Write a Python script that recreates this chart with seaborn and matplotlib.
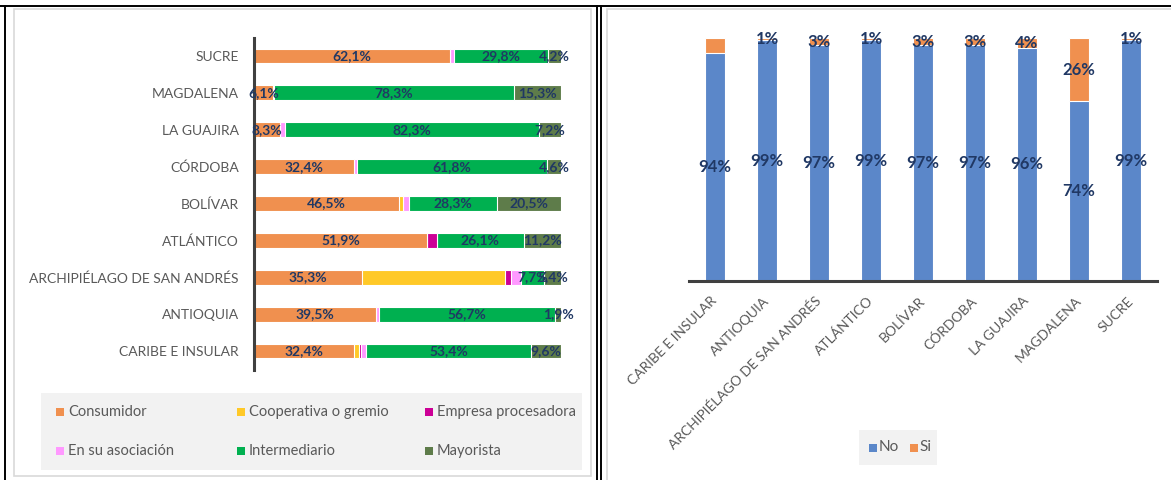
import matplotlib
matplotlib.use("Agg")
import matplotlib.pyplot as plt
import seaborn as sns
import pandas as pd
import numpy as np
from matplotlib.patches import Rectangle
from matplotlib.lines import Line2D

regions = ["CARIBE E INSULAR", "ANTIOQUIA", "ARCHIPIÉLAGO DE SAN ANDRÉS", "ATLÁNTICO",
           "BOLÍVAR", "CÓRDOBA", "LA GUAJIRA", "MAGDALENA", "SUCRE"]

# left chart - where the product is sold (%)
consumidor = [32.4, 39.5, 35.3, 51.9, 46.5, 32.4, 8.3, 6.1, 62.1]
cooperativa = [1.6, 0.0, 46.5, 0.0, 1.4, 0.0, 0.0, 0.0, 0.0]
empresa = [0.6, 0.0, 2.0, 2.8, 0.0, 0.0, 0.0, 0.0, 0.0]
asociacion = [1.4, 1.0, 3.1, 0.0, 2.0, 0.9, 1.6, 0.4, 1.4]
intermediario = [53.4, 56.7, 7.7, 26.1, 28.3, 61.8, 82.3, 78.3, 29.8]
mayorista = [9.6, 1.9, 5.4, 11.2, 20.5, 4.6, 7.2, 15.3, 4.2]

series_names = ["Consumidor", "Cooperativa o gremio", "Empresa procesadora",
                "En su asociación", "Intermediario", "Mayorista"]
labelled = ["Consumidor", "Intermediario", "Mayorista"]

# right chart - No / Si (%)
no_vals = [94, 99, 97, 99, 97, 97, 96, 74, 99]
si_vals = [6, 1, 3, 1, 3, 3, 4, 26, 1]
si_show = [False, True, True, True, True, True, True, True, True]

colors = {"Consumidor": "#F0904F", "Cooperativa o gremio": "#FFC928",
          "Empresa procesadora": "#CC0096", "En su asociación": "#FF99FF",
          "Intermediario": "#00B050", "Mayorista": "#5E7C4A"}
blue, orange = "#5B87C9", "#F0904F"
lab_col = "#203864"
gray_txt = "#595959"

sns.set_theme(style="white")
plt.rcParams["font.family"] = ["Lato", "DejaVu Sans"]

W, H = 1171, 480
fig = plt.figure(figsize=(W / 100, H / 100), dpi=100)


def fx(x):
    return x / W


def fy(y):
    return 1 - y / H


# ---- frame lines / chart borders (behind the axes)
fig.add_artist(Rectangle((fx(14), fy(476)), fx(591 - 14), (476 - 9) / H, transform=fig.transFigure,
                         facecolor="white", edgecolor="#D9D9D9", lw=1.2, zorder=-10))
fig.add_artist(Rectangle((fx(607), fy(482)), fx(1180 - 607), (482 - 9) / H, transform=fig.transFigure,
                         facecolor="white", edgecolor="#D9D9D9", lw=1.2, zorder=-10))
for (x0, y0, x1, y1) in [(0, 6, W, 6), (5, 6, 5, H), (597, 6, 597, H), (600.5, 6, 600.5, H)]:
    fig.add_artist(Line2D([fx(x0), fx(x1)], [fy(y0), fy(y1)], transform=fig.transFigure,
                          color="black", lw=1.4, zorder=-5))

# ---- left chart: 100% stacked horizontal bars
df = pd.DataFrame({"Consumidor": consumidor, "Cooperativa o gremio": cooperativa,
                   "Empresa procesadora": empresa, "En su asociación": asociacion,
                   "Intermediario": intermediario, "Mayorista": mayorista}, index=regions)
pct = df.div(df.sum(axis=1), axis=0) * 100
cum = pct.cumsum(axis=1)
cum_long = cum.reset_index().rename(columns={"index": "region"})
order_left = regions[::-1]

ax1 = fig.add_axes([fx(254), fy(369.5), fx(561 - 254), 332 / H])
for name in series_names[::-1]:
    sns.barplot(data=cum_long, x=name, y="region", order=order_left, orient="h",
                color=colors[name], saturation=1, width=0.4, errorbar=None,
                edgecolor="white", linewidth=0.8, ax=ax1)
for name in labelled:
    for i, reg in enumerate(order_left):
        c = cum.loc[reg, name] - pct.loc[reg, name] / 2
        txt = f"{df.loc[reg, name]:.1f}%".replace(".", ",")
        ax1.text(c, i, txt, ha="center", va="center", fontsize=10, fontweight="bold", color=lab_col)
ax1.set_xlim(0, 100)
ax1.set_xticks([])
ax1.set_xlabel("")
ax1.set_ylabel("")
ax1.tick_params(axis="y", length=0, pad=11, labelsize=10, labelcolor=gray_txt)
for s in ["top", "right", "bottom"]:
    ax1.spines[s].set_visible(False)
ax1.spines["left"].set_color("#404040")
ax1.spines["left"].set_linewidth(2.2)
ax1.patch.set_alpha(0)

# left legend (drawn by hand, Excel grid layout)
fig.add_artist(Rectangle((fx(41), fy(470)), fx(582 - 41), (470 - 393) / H, transform=fig.transFigure,
                         facecolor="#F2F2F2", edgecolor="none", zorder=-4))
leg_x = [60, 241, 429]
leg_y = [412, 451]
for k, name in enumerate(series_names):
    cx, cy = leg_x[k % 3], leg_y[k // 3]
    fig.add_artist(Rectangle((fx(cx - 4), fy(cy + 4)), fx(8), 8 / H, transform=fig.transFigure,
                             facecolor=colors[name], edgecolor="none"))
    fig.text(fx(cx + 8), fy(cy), name, ha="left", va="center", fontsize=10.5, color=gray_txt)

# ---- right chart: stacked columns No / Si
tot = np.array(no_vals, float) + np.array(si_vals, float)
d2 = pd.DataFrame({"region": regions, "total": tot / tot * 100,
                   "no": np.array(no_vals) / tot * 100})
ax2 = fig.add_axes([fx(689), fy(281), fx(1157 - 689), (281 - 38) / H])
sns.barplot(data=d2, x="region", y="total", order=regions, color=orange, saturation=1,
            width=0.37, errorbar=None, edgecolor="white", linewidth=0.8, ax=ax2)
sns.barplot(data=d2, x="region", y="no", order=regions, color=blue, saturation=1,
            width=0.37, errorbar=None, edgecolor="white", linewidth=0.8, ax=ax2)
for i in range(len(regions)):
    n = d2["no"].iloc[i]
    ax2.text(i, n / 2, f"{no_vals[i]}%", ha="center", va="center", fontsize=12,
             fontweight="bold", color=lab_col)
    if si_show[i]:
        ax2.text(i, n + (100 - n) / 2, f"{si_vals[i]}%", ha="center", va="center", fontsize=12,
                 fontweight="bold", color=lab_col)
ax2.set_ylim(0, 100)
ax2.set_xlim(-0.5, len(regions) - 0.5)
ax2.set_yticks([])
ax2.set_xlabel("")
ax2.set_ylabel("")
ax2.set_xticks(range(len(regions)))
ax2.set_xticklabels(regions, rotation=45, ha="right", va="center", rotation_mode="anchor",
                    fontsize=10, color=gray_txt)
ax2.tick_params(axis="x", length=0, pad=13)
for s in ["top", "right", "left"]:
    ax2.spines[s].set_visible(False)
ax2.spines["bottom"].set_color("#404040")
ax2.spines["bottom"].set_linewidth(2.2)
ax2.patch.set_alpha(0)

# right legend
fig.add_artist(Rectangle((fx(859), fy(465)), fx(937 - 859), (465 - 430) / H, transform=fig.transFigure,
                         facecolor="#F2F2F2", edgecolor="none", zorder=-4))
for cx, name, col in [(873, "No", blue), (914, "Si", orange)]:
    fig.add_artist(Rectangle((fx(cx - 4), fy(448 + 4)), fx(8), 8 / H, transform=fig.transFigure,
                             facecolor=col, edgecolor="none"))
    fig.text(fx(cx + 5.5), fy(447), name, ha="left", va="center", fontsize=11, color=gray_txt)

fig.savefig("out.png", dpi=100)
